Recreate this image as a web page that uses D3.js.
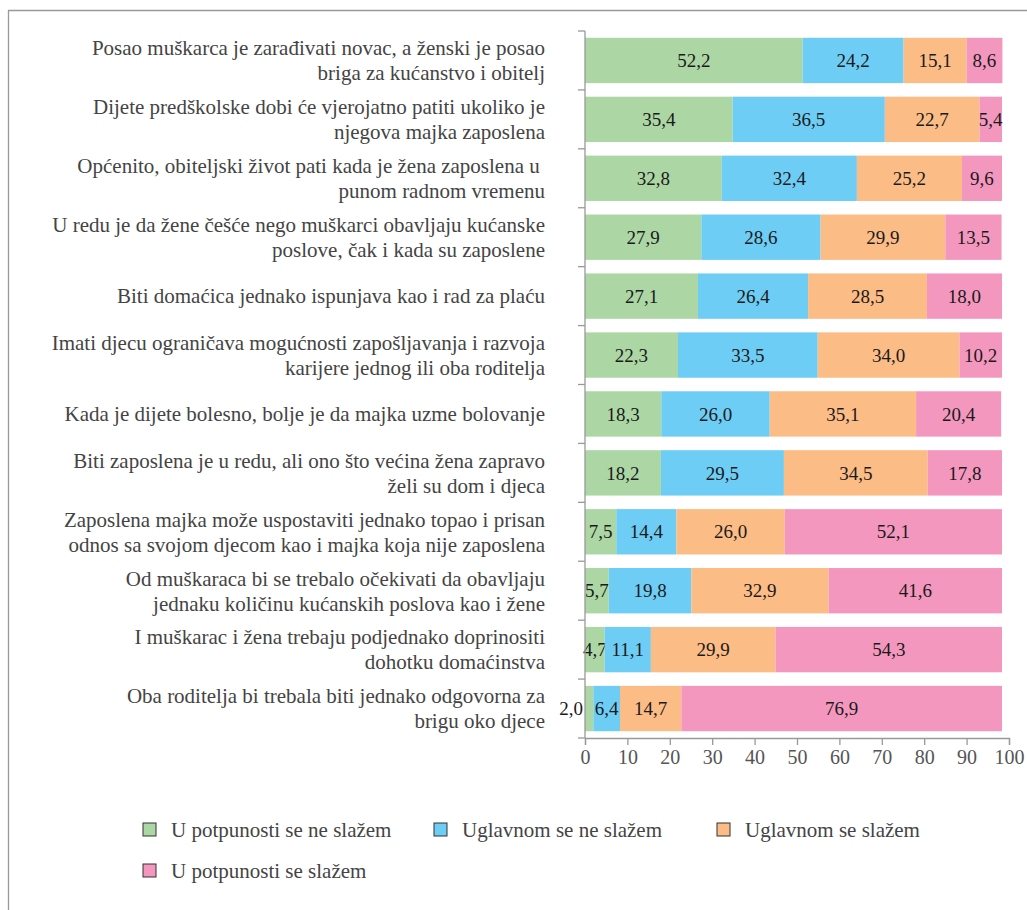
<!DOCTYPE html>
<meta charset="utf-8">
<body>
<script src="https://cdn.jsdelivr.net/npm/d3@7"></script>
<style>
    html, body {
        margin: 0;
        background: #fff;
    }
</style>
<script>
var statements = [
    ["Posao muškarca je zarađivati novac, a ženski je posao", "briga za kućanstvo i obitelj"],
    ["Dijete predškolske dobi će vjerojatno patiti ukoliko je", "njegova majka zaposlena"],
    ["Općenito, obiteljski život pati kada je žena zaposlena u ", "punom radnom vremenu"],
    ["U redu je da žene češće nego muškarci obavljaju kućanske", "poslove, čak i kada su zaposlene"],
    ["Biti domaćica jednako ispunjava kao i rad za plaću"],
    ["Imati djecu ograničava mogućnosti zapošljavanja i razvoja", "karijere jednog ili oba roditelja"],
    ["Kada je dijete bolesno, bolje je da majka uzme bolovanje"],
    ["Biti zaposlena je u redu, ali ono što većina žena zapravo", "želi su dom i djeca"],
    ["Zaposlena majka može uspostaviti jednako topao i prisan", "odnos sa svojom djecom kao i majka koja nije zaposlena"],
    ["Od muškaraca bi se trebalo očekivati da obavljaju", "jednaku količinu kućanskih poslova kao i žene"],
    ["I muškarac i žena trebaju podjednako doprinositi", "dohotku domaćinstva"],
    ["Oba roditelja bi trebala biti jednako odgovorna za", "brigu oko djece"]
];

var seriesNames = ["U potpunosti se ne slažem", "Uglavnom se ne slažem", "Uglavnom se slažem", "U potpunosti se slažem"];
var colors = ["#acd7a5", "#6dcdf5", "#fbbc86", "#f497be"];

var stronglyDisagree = [52.2, 35.4, 32.8, 27.9, 27.1, 22.3, 18.3, 18.2, 7.5, 5.7, 4.7, 2.0];
var mostlyDisagree   = [24.2, 36.5, 32.4, 28.6, 26.4, 33.5, 26.0, 29.5, 14.4, 19.8, 11.1, 6.4];
var mostlyAgree      = [15.1, 22.7, 25.2, 29.9, 28.5, 34.0, 35.1, 34.5, 26.0, 32.9, 29.9, 14.7];
var stronglyAgree    = [8.6, 5.4, 9.6, 13.5, 18.0, 10.2, 20.4, 17.8, 52.1, 41.6, 54.3, 76.9];

var xTicks = [0, 10, 20, 30, 40, 50, 60, 70, 80, 90, 100];

var width = 1027, height = 910;
var font = "'Liberation Serif', 'Times New Roman', serif";
var fmt = function(v) { return d3.format(".1f")(v).replace(".", ","); };

var rows = statements.map(function(s, i) {
    return {i: i, s0: stronglyDisagree[i], s1: mostlyDisagree[i], s2: mostlyAgree[i], s3: stronglyAgree[i]};
});
var stack = d3.stack().keys(["s0", "s1", "s2", "s3"])(rows);

var svg = d3.select("body").append("svg")
    .attr("width", width)
    .attr("height", height)
    .style("font-family", font);

// frame
svg.append("path")
    .attr("d", "M8.5," + height + "V10.5H" + width)
    .attr("fill", "none")
    .attr("stroke", "#999")
    .attr("stroke-width", 1.3);

var x0 = 585;
var xAxisScale = d3.scaleLinear().domain([0, 100]).range([x0, 1009]);
var xBar = d3.scaleLinear().domain([0, 100]).range([x0, 1002]);
var y = d3.scaleBand().domain(d3.range(statements.length)).range([31, 738])
    .paddingInner(0.23).paddingOuter(0.115);
var yTickPos = d3.range(statements.length + 1).map(function(i) { return 31 + i * (738 - 31) / statements.length; });

var groups = svg.selectAll("g.series")
    .data(stack)
    .enter().append("g")
    .attr("class", "series")
    .attr("fill", function(d, i) { return colors[i]; });

groups.selectAll("rect")
    .data(function(d) { return d; })
    .enter().append("rect")
    .attr("x", function(d) { return xBar(d[0]); })
    .attr("y", function(d) { return y(d.data.i); })
    .attr("width", function(d) { return xBar(d[1]) - xBar(d[0]); })
    .attr("height", y.bandwidth());

groups.selectAll("text")
    .data(function(d) { return d; })
    .enter().append("text")
    .attr("x", function(d) {
        var v = d[1] - d[0];
        return v < 3 ? xBar(d[0]) - 2 : (xBar(d[0]) + xBar(d[1])) / 2;
    })
    .attr("y", function(d) { return y(d.data.i) + y.bandwidth() / 2; })
    .attr("dy", "0.35em")
    .attr("text-anchor", function(d) { return (d[1] - d[0]) < 3 ? "end" : "middle"; })
    .attr("fill", "#1a1a1a")
    .style("font-size", "19px")
    .text(function(d) { return fmt(d[1] - d[0]); });

// axes
var axisColor = "#999";
svg.append("line")
    .attr("x1", x0).attr("x2", x0)
    .attr("y1", 31).attr("y2", 738)
    .attr("stroke", axisColor).attr("stroke-width", 1.3);
svg.selectAll("line.ytick")
    .data(yTickPos)
    .enter().append("line")
    .attr("class", "ytick")
    .attr("x1", x0 - 7).attr("x2", x0)
    .attr("y1", function(d) { return d; }).attr("y2", function(d) { return d; })
    .attr("stroke", axisColor).attr("stroke-width", 1.3);

var xAxis = svg.append("g")
    .attr("transform", "translate(0,738)")
    .call(d3.axisBottom(xAxisScale).tickValues(xTicks).tickSize(7).tickPadding(5).tickFormat(d3.format("d")));
xAxis.attr("font-family", null);
xAxis.select(".domain").attr("stroke", axisColor).attr("stroke-width", 1.3);
xAxis.selectAll(".tick line").attr("stroke", axisColor).attr("stroke-width", 1.3);
xAxis.selectAll(".tick text")
    .attr("fill", "#555")
    .style("font-family", font)
    .style("font-size", "20px");

// category labels
var labels = svg.selectAll("text.cat")
    .data(statements)
    .enter().append("text")
    .attr("class", "cat")
    .attr("text-anchor", "end")
    .attr("fill", "#444")
    .style("font-size", "21px");

labels.each(function(lines, i) {
    var cy = y(i) + y.bandwidth() / 2;
    var lh = 25;
    var top = cy - (lines.length - 1) * lh / 2;
    d3.select(this).selectAll("tspan")
        .data(lines)
        .enter().append("tspan")
        .attr("x", 545)
        .attr("y", function(d, j) { return top + j * lh; })
        .attr("dy", "0.35em")
        .text(function(d) { return d; });
});

// legend
var legendPos = [[143, 830], [434, 830], [717, 830], [143, 871]];
var legend = svg.selectAll("g.legend")
    .data(seriesNames)
    .enter().append("g")
    .attr("class", "legend")
    .attr("transform", function(d, i) { return "translate(" + legendPos[i] + ")"; });

legend.append("rect")
    .attr("x", 0).attr("y", -7)
    .attr("width", 13).attr("height", 13)
    .attr("fill", function(d, i) { return colors[i]; })
    .attr("stroke", "#333")
    .attr("stroke-width", 1);

legend.append("text")
    .attr("x", 28)
    .attr("dy", "0.35em")
    .attr("fill", "#444")
    .style("font-size", "21px")
    .text(function(d) { return d; });
</script>
